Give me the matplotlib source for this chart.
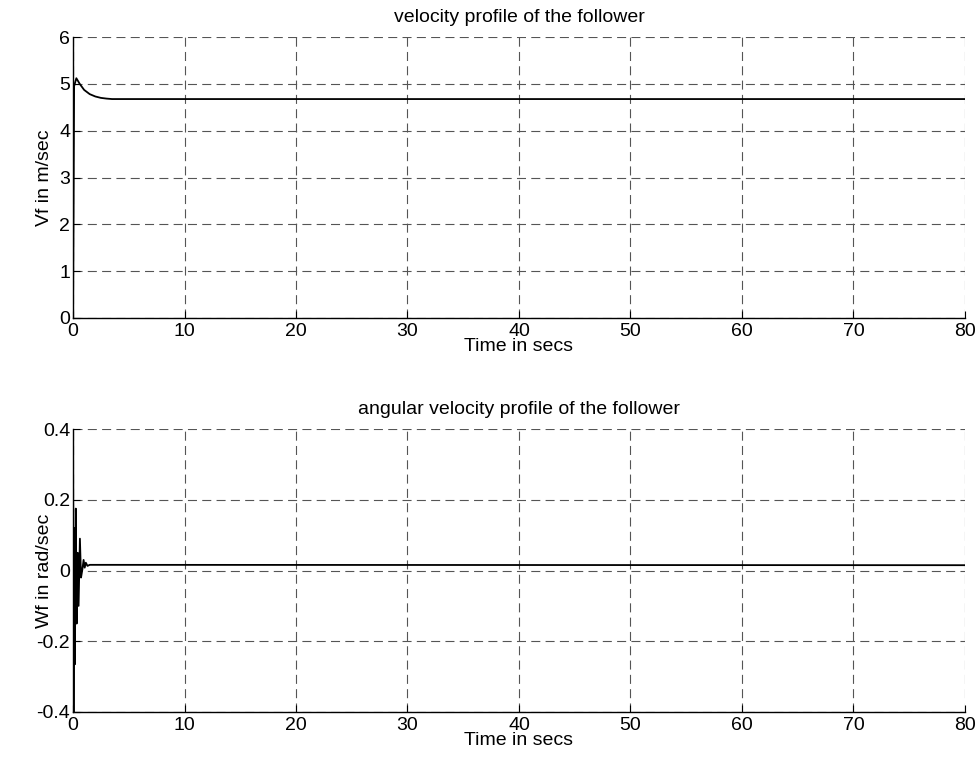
import matplotlib
matplotlib.use("Agg")
import matplotlib.pyplot as plt

plt.rcParams['font.family'] = ['Liberation Sans', 'DejaVu Sans']
plt.rcParams['lines.scale_dashes'] = False

# Follower linear velocity (m/s) over time (s)
t_v = [0.0, 0.1, 0.3, 0.6, 1.0, 1.5, 2.0, 2.5, 3.0, 3.5, 80.0]
v_f = [0.0, 4.95, 5.12, 5.0, 4.87, 4.78, 4.73, 4.70, 4.685, 4.675, 4.675]

# Follower angular velocity (rad/s) over time (s)
t_w = [0.0, 0.05, 0.1, 0.17, 0.25, 0.33, 0.42, 0.5, 0.62, 0.72, 0.85,
       0.95, 1.05, 1.15, 1.3, 1.5, 80.0]
w_f = [0.45, -0.4, 0.12, -0.265, 0.175, -0.15, 0.05, -0.1, 0.09, -0.02,
       0.005, 0.03, 0.008, 0.022, 0.013, 0.016, 0.015]

x_ticks = [0, 10, 20, 30, 40, 50, 60, 70, 80]
v_ticks = [0, 1, 2, 3, 4, 5, 6]
w_ticks = [-0.4, -0.2, 0, 0.2, 0.4]
w_tick_labels = ['-0.4', '-0.2', '0', '0.2', '0.4']

FS = 14
fig = plt.figure(figsize=(9.79, 7.59), dpi=100)
W, H = 979, 759


def make_axes(left, right, top, bottom):
    return fig.add_axes([left / W, 1 - bottom / H, (right - left) / W, (bottom - top) / H])


def style(ax):
    for side in ('top', 'right'):
        ax.spines[side].set_visible(False)
    for side in ('left', 'bottom'):
        ax.spines[side].set_linewidth(1.0)
    ax.tick_params(direction='in', length=5, width=0.8, labelsize=FS)
    ax.tick_params(axis='x', pad=3.5)
    ax.tick_params(axis='y', pad=2)
    ax.grid(True, color='#555555', linewidth=0.8, linestyle=(0, (6.5, 3.8)))
    ax.set_axisbelow(True)


ax1 = make_axes(73, 965, 37, 318)
ax1.plot(t_v, v_f, color='black', linewidth=1.3)
ax1.set_xlim(0, 80)
ax1.set_ylim(0, 6)
ax1.set_xticks(x_ticks)
ax1.set_yticks(v_ticks)
style(ax1)
ax1.set_title('velocity profile of the follower', fontsize=FS, pad=11)
ax1.set_xlabel('Time in secs', fontsize=FS, labelpad=-1)
ax1.set_ylabel('Vf in m/sec', fontsize=FS)
ax1.yaxis.set_label_coords(-0.022, 0.5)

ax2 = make_axes(73, 965, 429, 712)
ax2.plot(t_w, w_f, color='black', linewidth=1.3)
ax2.set_xlim(0, 80)
ax2.set_ylim(-0.4, 0.4)
ax2.set_xticks(x_ticks)
ax2.set_yticks(w_ticks)
ax2.set_yticklabels(w_tick_labels)
style(ax2)
ax2.set_title('angular velocity profile of the follower', fontsize=FS, pad=11)
ax2.set_xlabel('Time in secs', fontsize=FS, labelpad=-1)
ax2.set_ylabel('Wf in rad/sec', fontsize=FS)
ax2.yaxis.set_label_coords(-0.022, 0.5)

fig.savefig('out.png', dpi=100, facecolor='white')
